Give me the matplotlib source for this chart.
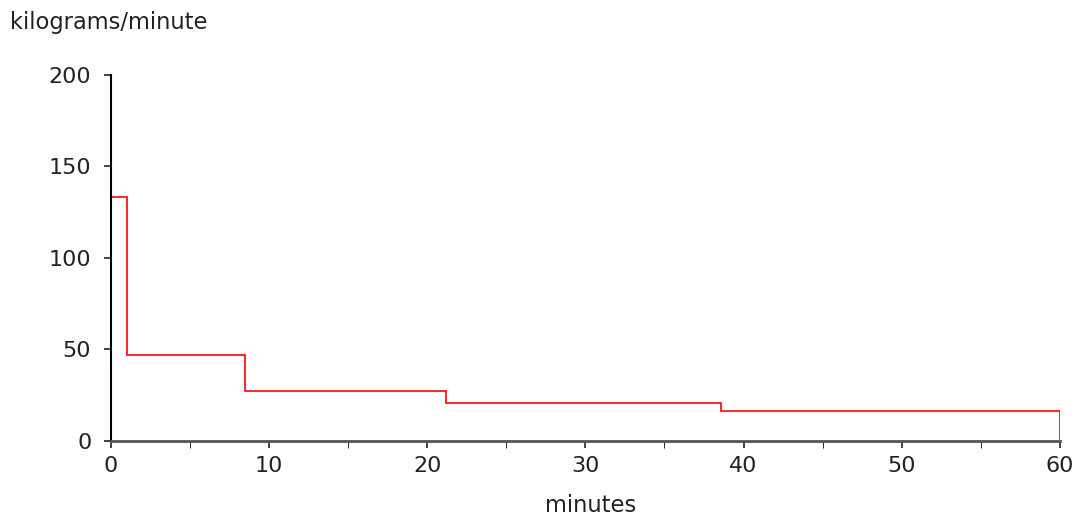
import matplotlib
matplotlib.use("Agg")
import matplotlib.pyplot as plt
from matplotlib.ticker import MultipleLocator

# Step edges (minutes) and flow rate in each interval (kg/min)
edges = [0, 1, 8.5, 21.2, 38.6, 60]
rates = [133, 46.6, 27, 20.4, 16]

x_ticks = [0, 10, 20, 30, 40, 50, 60]
y_ticks = [0, 50, 100, 150, 200]

plt.rcParams["font.family"] = "DejaVu Sans"
plt.rcParams["font.sans-serif"] = ["DejaVu Sans"]

fig = plt.figure(figsize=(10.78, 5.2), dpi=100)
ax = fig.add_axes([0.1027, 0.1525, 0.8806, 0.7033])

# Red step line, dropping to zero at the end
ax.stairs(rates, edges, baseline=0, color="#ff0000", linewidth=1.2)

ax.set_xlim(0, 60)
ax.set_ylim(0, 200)
ax.set_xticks(x_ticks)
ax.set_yticks(y_ticks)
ax.xaxis.set_minor_locator(MultipleLocator(5))

for side in ("top", "right"):
    ax.spines[side].set_visible(False)
ax.spines["left"].set_color("black")
ax.spines["left"].set_linewidth(1.5)
ax.spines["bottom"].set_color("#555555")
ax.spines["bottom"].set_linewidth(2)

ax.tick_params(axis="both", labelsize=16, colors="#222222", width=1.2)
ax.tick_params(axis="x", which="both", length=5, pad=6)
ax.tick_params(axis="y", length=5, pad=9)

fig.text(0.009, 0.957, "kilograms/minute", fontsize=16.3, color="#222222",
         ha="left", va="center")
fig.text(0.548, 0.006, "minutes", fontsize=16.3, color="#222222",
         ha="center", va="bottom")

fig.savefig("out.png", dpi=100)
